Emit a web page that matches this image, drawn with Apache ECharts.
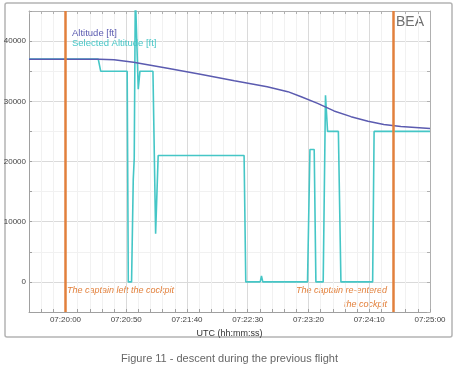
<!DOCTYPE html>
<html>
<head>
<meta charset="utf-8">
<script src="https://cdn.jsdelivr.net/npm/echarts@6/dist/echarts.min.js"></script>
<style>
html,body{margin:0;padding:0;background:#fff;}
#chart{width:459px;height:370px;}
</style>
</head>
<body>
<div id="chart"></div>
<script>
// Time in seconds relative to 07:20:00 UTC
const clockBase = 7 * 3600 + 20 * 60;

const altitudeTime = [-30, 0, 28, 40, 56, 84, 111, 139, 166, 183, 194, 207.5, 221, 235, 249, 262, 276, 300];
const altitudeFt   = [37000, 37000, 37000, 36900, 36500, 35500, 34500, 33400, 32400, 31600, 30750, 29650, 28400, 27450, 26700, 26150, 25800, 25500];

const selectedTime = [-30, 27, 29, 50.8, 51.7, 54.4, 55.8, 56.6, 57.5, 58.3, 59.9, 61.3, 72, 74.2, 76.3, 147, 148.4, 160.3, 161.3, 162.4, 199.2, 201.2, 204.7, 206.1, 212.1, 214, 215.7, 224.6, 226.7, 252.8, 254, 300];
const selectedFt   = [37000, 37000, 35000, 35000, 0, 0, 17000, 20500, 48000, 48000, 32000, 35000, 35000, 8000, 21000, 21000, 0, 0, 1000, 0, 0, 22000, 22000, 0, 0, 31000, 25000, 25000, 0, 0, 25000, 25000];

const eventTimes = [0, 270];
const eventLabels = ['The captain left the cockpit', 'The captain re-entered', 'the cockpit'];
const seriesNames = ['Altitude [ft]', 'Selected Altitude [ft]'];
const xAxisTitle = 'UTC (hh:mm:ss)';
const caption = 'Figure 11 - descent during the previous flight';
const logoText = 'BEA';

const colAlt = '#5b5bb0';
const colSel = '#45c6c6';
const colEvt = '#e2803c';
const font = 'Liberation Sans, Arial, sans-serif';

function pad(n){ return (n < 10 ? '0' : '') + n; }
function clock(v){
  const s = Math.round(clockBase + v);
  return pad(Math.floor(s / 3600)) + ':' + pad(Math.floor((s % 3600) / 60)) + ':' + pad(s % 60);
}
function zip(a, b){ return a.map((t, i) => [t, b[i]]); }

const minor = '#f1f1f1', major = '#dadada';

const chart = echarts.init(document.getElementById('chart'), null, {renderer: 'canvas'});
chart.setOption({
  animation: false,
  backgroundColor: '#fff',
  textStyle: {fontFamily: font},
  grid: {left: 29, right: 29, top: 11, bottom: 58},
  legend: {
    orient: 'vertical', left: 62, top: 23, itemGap: 0, icon: 'none', itemWidth: 0, itemHeight: 8,
    textStyle: {fontSize: 9.5, fontFamily: font, padding: [0,0,0,0]},
    data: [
      {name: seriesNames[0], textStyle: {color: colAlt}},
      {name: seriesNames[1], textStyle: {color: colSel}}
    ]
  },
  xAxis: [{
    type: 'value', min: -30, max: 300, interval: 10, position: 'bottom',
    axisLine: {onZero: false, lineStyle: {color: '#a0a0a0'}},
    axisTick: {inside: true, length: 3, lineStyle: {color: '#a0a0a0'}},
    axisLabel: {fontSize: 8, color: '#444', margin: 4, fontFamily: font,
      formatter: v => (Math.round(v) % 50 === 0 ? clock(v) : '')},
    splitLine: {show: true, lineStyle: {color: [minor, minor, minor, major, minor], width: 1}},
    name: xAxisTitle, nameLocation: 'middle', nameGap: 12,
    nameTextStyle: {fontSize: 9, color: '#333', fontFamily: font}
  }, {
    type: 'value', min: -30, max: 300, interval: 10, position: 'top',
    axisLine: {onZero: false, lineStyle: {color: '#b0b0b0'}},
    axisTick: {inside: true, length: 3, lineStyle: {color: '#b0b0b0'}},
    axisLabel: {show: false}, splitLine: {show: false}
  }],
  yAxis: [{
    type: 'value', min: -5000, max: 45000, interval: 5000, position: 'left',
    axisLine: {show: true, onZero: false, lineStyle: {color: '#a0a0a0'}},
    axisTick: {show: true, inside: true, length: 3, lineStyle: {color: '#a0a0a0'}},
    axisLabel: {fontSize: 8, color: '#444', margin: 3, fontFamily: font,
      formatter: v => (v >= 0 && v % 10000 === 0 ? String(v) : '')},
    splitLine: {show: true, lineStyle: {color: [minor, major], width: 1}}
  }, {
    type: 'value', min: -5000, max: 45000, interval: 5000, position: 'right',
    axisLine: {show: true, onZero: false, lineStyle: {color: '#b0b0b0'}},
    axisTick: {show: true, inside: true, length: 3, lineStyle: {color: '#b0b0b0'}},
    axisLabel: {show: false}, splitLine: {show: false}
  }],
  series: [{
    name: seriesNames[1], type: 'line', data: zip(selectedTime, selectedFt),
    showSymbol: false, symbol: 'none', clip: true, z: 3,
    lineStyle: {color: colSel, width: 1.6}, itemStyle: {color: colSel}
  }, {
    name: seriesNames[0], type: 'line', data: zip(altitudeTime, altitudeFt),
    showSymbol: false, symbol: 'none', clip: true, z: 4,
    lineStyle: {color: colAlt, width: 1.5}, itemStyle: {color: colAlt},
    markLine: {
      silent: true, symbol: ['none', 'none'], label: {show: false},
      lineStyle: {color: colEvt, width: 2.5, type: 'solid'},
      data: eventTimes.map(t => ({xAxis: t}))
    }
  }],
  graphic: [
    {type: 'rect', shape: {x: 5, y: 3, width: 447, height: 334, r: 2}, silent: true,
     style: {fill: 'none', stroke: '#b4b4b4', lineWidth: 1.5}, z: -10},
    {type: 'text', left: 396, top: 15, silent: true,
     style: {text: logoText, font: '14px ' + font, fill: '#707070'}},
    {type: 'text', left: 67, top: 286, silent: true,
     style: {text: eventLabels[0], font: 'italic 9px ' + font, fill: colEvt}},
    {type: 'text', right: 459 - 387, top: 286, silent: true,
     style: {text: eventLabels[1], font: 'italic 9px ' + font, fill: colEvt}},
    {type: 'text', right: 459 - 387, top: 300, silent: true,
     style: {text: eventLabels[2], font: 'italic 9px ' + font, fill: colEvt}},
    {type: 'text', left: 'center', top: 353, silent: true,
     style: {text: caption, font: '11px ' + font, fill: '#666'}}
  ]
});
</script>
</body>
</html>
